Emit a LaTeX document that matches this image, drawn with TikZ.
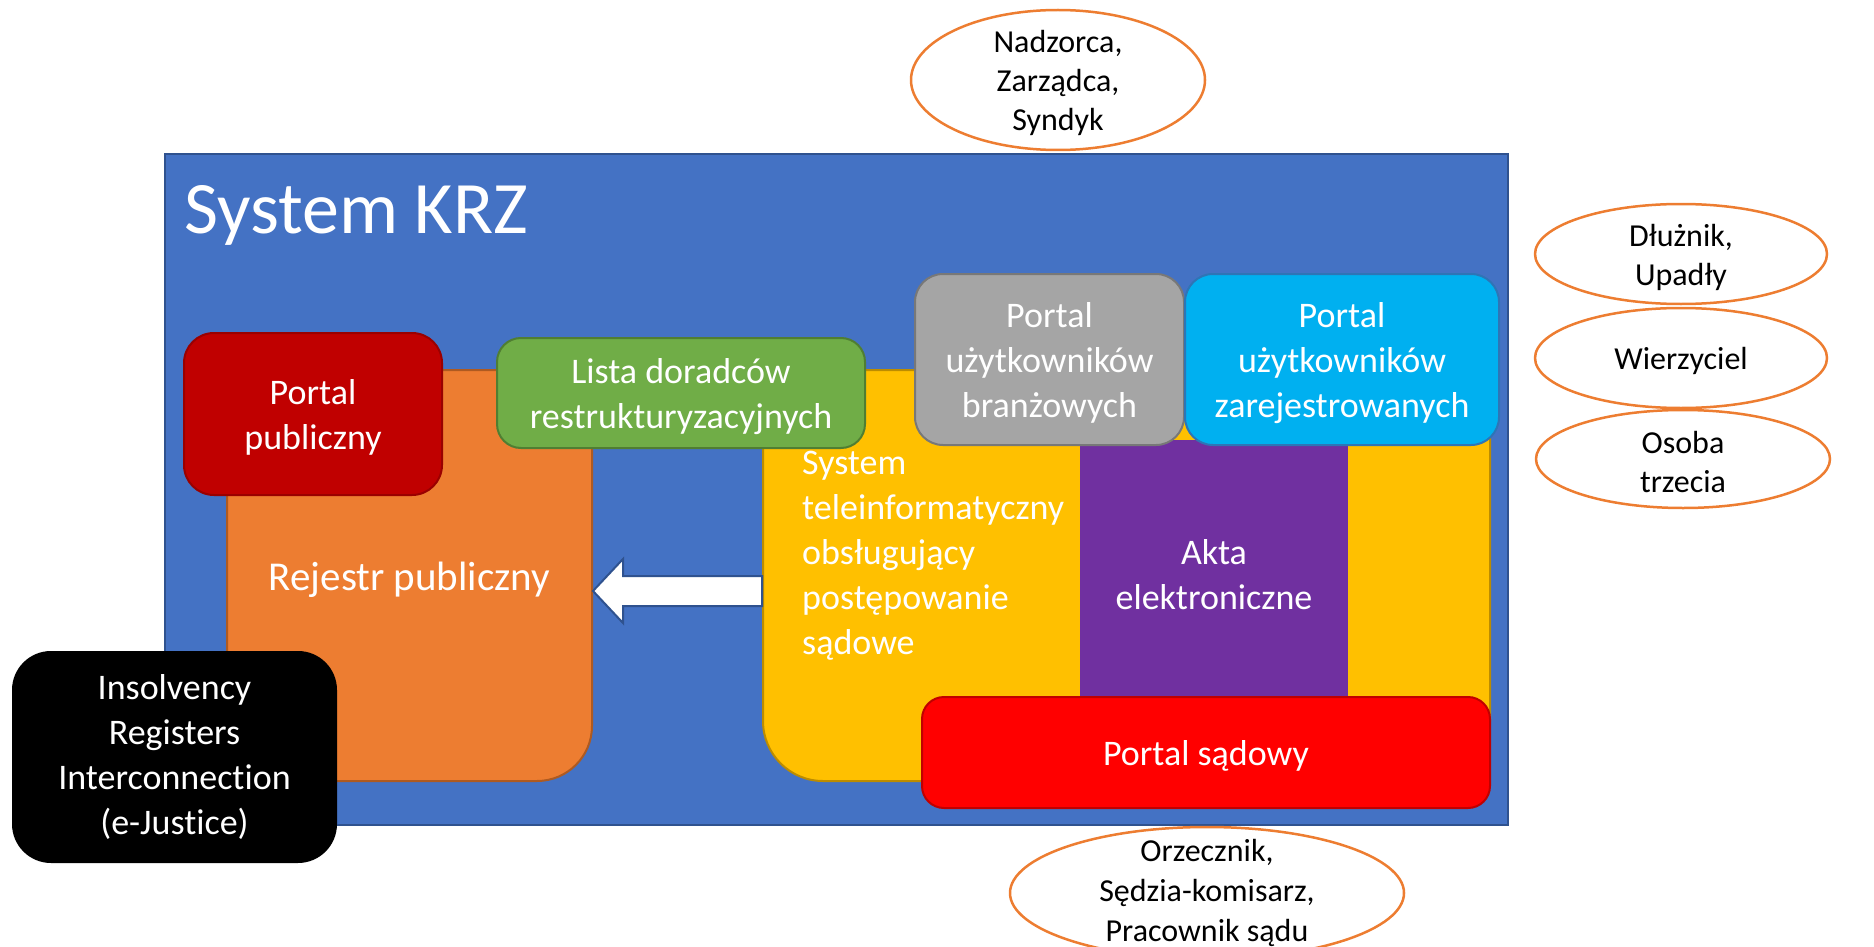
\documentclass[tikz,border=0pt]{standalone}
\usepackage{fontspec}
\setmainfont{Carlito}[Ligatures=NoCommon]
\usetikzlibrary{shapes.geometric,calc}

\definecolor{krzblue}{HTML}{4472C4}
\definecolor{krzblueline}{HTML}{2F528F}
\definecolor{krzorange}{HTML}{ED7D31}
\definecolor{krzorangeline}{HTML}{AE5A21}
\definecolor{krzyellow}{HTML}{FFC000}
\definecolor{krzyellowline}{HTML}{BC8C00}
\definecolor{krzpurple}{HTML}{7030A0}
\definecolor{krzgreen}{HTML}{70AD47}
\definecolor{krzgreenline}{HTML}{507E32}
\definecolor{krzgray}{HTML}{A5A5A5}
\definecolor{krzgrayline}{HTML}{787878}
\definecolor{krzcyan}{HTML}{00B0F0}
\definecolor{krzcyanline}{HTML}{2E75B6}
\definecolor{krzdarkred}{HTML}{C00000}
\definecolor{krzdarkredline}{HTML}{9A0000}
\definecolor{krzred}{HTML}{FF0000}
\definecolor{krzredline}{HTML}{C00000}

% taller first line, so the text sits a little lower in its box
\newcommand\krzup{\rule{0pt}{0.9em}}

\begin{document}
\begin{tikzpicture}[x=1pt,y=-1pt,
  box/.style={draw,line width=2pt,text=white,align=center,inner sep=0pt,
    font=\fontsize{36}{45}\selectfont},
  actor/.style={ellipse,draw=krzorange,line width=2.5pt,fill=white,
    align=center,inner sep=-20pt,font=\fontsize{32}{39}\selectfont},
  flow/.style={fill=white,draw=krzblueline,line width=2pt,line join=miter}]
  \useasboundingbox (0,0) rectangle (1874,947);

  % system frame
  \node[box,fill=krzblue,draw=krzblueline,
    minimum width=1343pt,minimum height=671pt] (krz) at (836.5,489.5) {};
  \node[anchor=base west,text=white,inner sep=0pt,
    font=\fontsize{74}{88}\selectfont] (krztitle) at (184,233) {System KRZ};

  % registers
  \node[box,rounded corners=55pt,fill=krzorange,draw=krzorangeline,
    minimum width=365pt,minimum height=411pt,
    font=\fontsize{41}{50}\selectfont] (rej) at (409.5,575.5)
    {\krzup Rejestr publiczny};
  \node[box,rounded corners=60pt,fill=krzyellow,draw=krzyellowline,
    minimum width=727pt,minimum height=411pt] (yel) at (1126.5,575.5) {};
  \node[anchor=north west,text=white,align=left,inner sep=0pt,
    font=\fontsize{36}{45}\selectfont] (sysdesc) at (802,451)
    {System\\teleinformatyczny\\obsługujący\\postępowanie\\sądowe};
  \node[box,draw=none,fill=krzpurple,
    minimum width=268pt,minimum height=262pt] (akta) at (1214,571)
    {\krzup Akta\\elektroniczne};

  % transfer arrow
  \coordinate (atip) at (rej.east |- 0,591);
  \coordinate (aend) at (yel.west |- 0,591);
  \draw[flow] (atip) -- ++(30,-32) -- ++(0,17) -- ($(aend)+(0,-15)$)
    -- ($(aend)+(0,15)$) -- ($(atip)+(30,15)$) -- ++(0,17) -- cycle;

  % portals
  \node[box,rounded corners=24pt,fill=krzgreen,draw=krzgreenline,
    minimum width=368pt,minimum height=110pt] (lista) at (681,393)
    {\krzup Lista doradców\\restrukturyzacyjnych};
  \node[box,rounded corners=30pt,fill=krzdarkred,draw=krzdarkredline,
    minimum width=258pt,minimum height=162pt] (pub) at (313,414)
    {\krzup Portal\\publiczny};
  \node[box,rounded corners=28pt,fill=krzgray,draw=krzgrayline,
    minimum width=269pt,minimum height=171pt] (brz) at (1049.5,359.5)
    {\krzup Portal\\użytkowników\\branżowych};
  \node[box,rounded corners=28pt,fill=krzcyan,draw=krzcyanline,
    minimum width=314pt,minimum height=171pt] (zar) at (1342,359.5)
    {\krzup Portal\\użytkowników\\zarejestrowanych};
  \node[box,rounded corners=22pt,fill=krzred,draw=krzredline,
    minimum width=568pt,minimum height=111pt] (sad) at (1206,752.5)
    {\krzup Portal sądowy};
  \node[box,rounded corners=38pt,fill=black,draw=black,
    minimum width=323pt,minimum height=210pt] (eju) at (174.5,757)
    {Insolvency\\Registers\\Interconnection\\(e-Justice)};

  % users
  \node[actor,minimum width=294pt,minimum height=140pt] (nad) at (1058,80)
    {\krzup Nadzorca,\\Zarządca,\\Syndyk};
  \node[actor,minimum width=292pt,minimum height=100pt] (dlu) at (1681,254)
    {\krzup Dłużnik,\\Upadły};
  \node[actor,minimum width=292pt,minimum height=100pt] (wie) at (1681,358)
    {\krzup Wierzyciel};
  \node[actor,minimum width=294pt,minimum height=98pt] (oso) at (1683,459)
    {\krzup Osoba\\trzecia};
  \node[actor,minimum width=394pt,minimum height=132pt,
    font=\fontsize{32}{40}\selectfont] (orz) at (1207,893)
    {Orzecznik,\\Sędzia-komisarz,\\Pracownik sądu};
\end{tikzpicture}
\end{document}
